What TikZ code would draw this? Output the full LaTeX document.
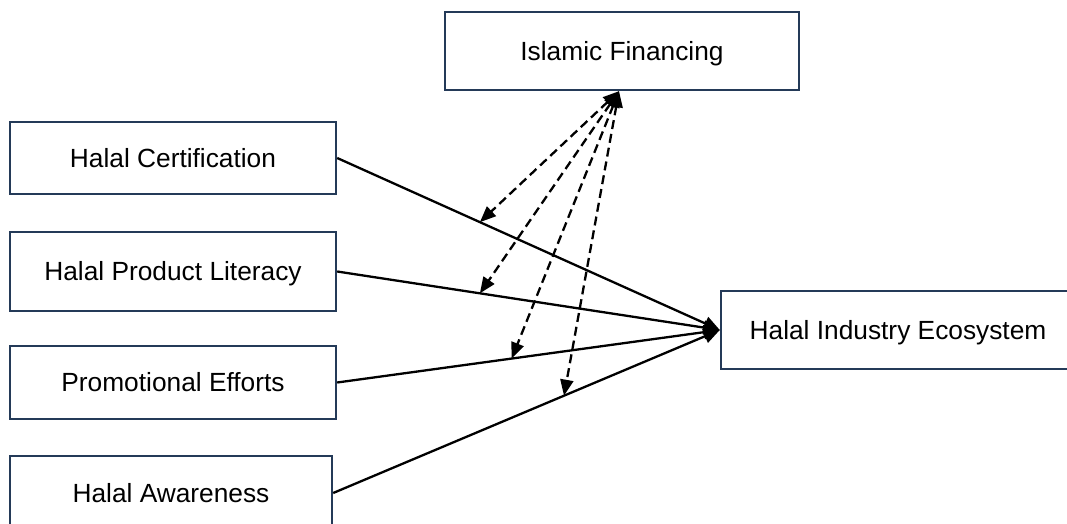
\documentclass[tikz,border=0pt]{standalone}
\usepackage{fontspec}
\setmainfont{Liberation Sans}
\usetikzlibrary{arrows.meta}
\definecolor{boxblue}{RGB}{36,58,88}
\tikzset{
  boxnode/.style={draw=boxblue, line width=2.4pt, fill=white, inner sep=0pt,
    font=\fontsize{26.3}{30}\selectfont, align=center,
    text height=18.8pt, text depth=0pt},
  solidarrow/.style={line width=2.3pt, -{Triangle[length=16pt,width=14pt]}},
  dasharrow/.style={line width=2.3pt, dash pattern=on 9pt off 5pt,
    {Triangle[length=16pt,width=13pt]}-{Triangle[length=16pt,width=13pt]}}
}
\begin{document}
\begin{tikzpicture}[x=1pt,y=-1pt]
\useasboundingbox (0,0) rectangle (1067,524);
\clip (0,0) rectangle (1067,524);
\node[boxnode, minimum width=354pt, minimum height=78pt] (if) at (622,51) {Islamic Financing};
\node[boxnode, minimum width=326pt, minimum height=72pt] (hc) at (173,158) {Halal Certification};
\node[boxnode, minimum width=326pt, minimum height=79pt] (hpl) at (173,271.5) {Halal Product Literacy};
\node[boxnode, minimum width=326pt, minimum height=73pt] (pe) at (173,382.5) {Promotional Efforts};
\node[boxnode, minimum width=322pt, minimum height=74pt] (ha) at (171,493) {Halal Awareness};
\node[boxnode, minimum width=354pt, minimum height=78pt] (hie) at (898,330) {Halal Industry Ecosystem};

\coordinate (src) at ([xshift=-3pt]if.south);
\path (hc.east) -- (hie.west) coordinate[pos=0.373] (m1);
\path (hpl.east) -- (hie.west) coordinate[pos=0.373] (m2);
\path (pe.east) -- (hie.west) coordinate[pos=0.456] (m3);
\path (ha.east) -- (hie.west) coordinate[pos=0.597] (m4);

\draw[solidarrow] (hc.east) -- (hie.west);
\draw[solidarrow] (hpl.east) -- (hie.west);
\draw[solidarrow] (pe.east) -- (hie.west);
\draw[solidarrow] (ha.east) -- (hie.west);

\draw[dasharrow] (src) -- (m1);
\draw[dasharrow] (src) -- (m2);
\draw[dasharrow] (src) -- (m3);
\draw[dasharrow] (src) -- (m4);
\end{tikzpicture}
\end{document}
